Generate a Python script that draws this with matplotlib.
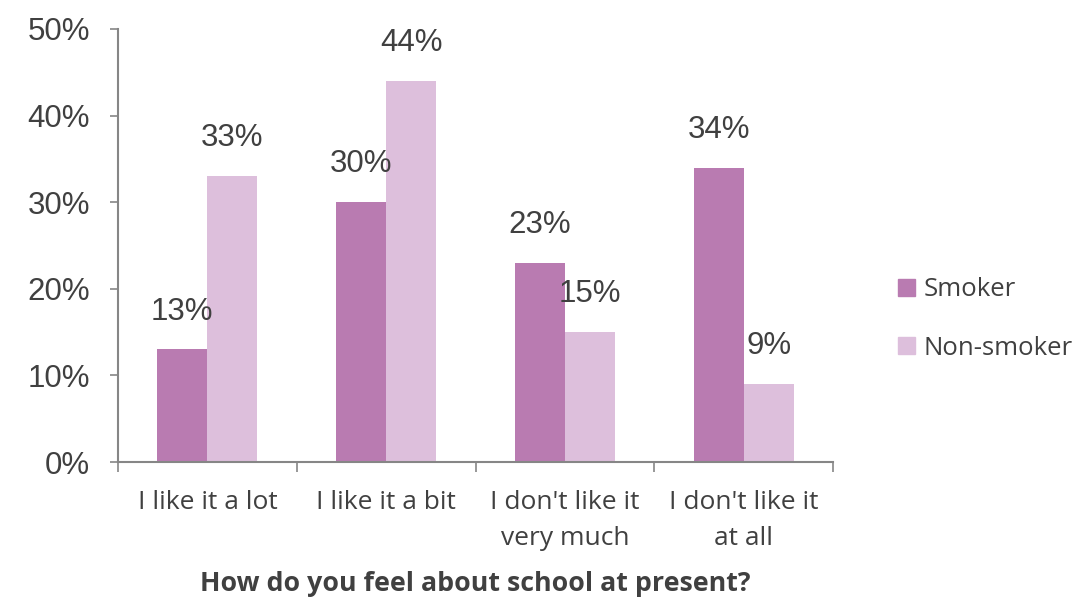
import numpy as np
import matplotlib
matplotlib.use("Agg")
import matplotlib.pyplot as plt
from matplotlib.patches import Patch

categories = ["I like it a lot", "I like it a bit",
              "I don't like it\nvery much", "I don't like it\nat all"]
smoker = [13, 30, 23, 34]
non_smoker = [33, 44, 15, 9]
series_names = ["Smoker", "Non-smoker"]
y_ticks = [0, 10, 20, 30, 40, 50]

SMOKER_COL = "#B97BB1"
NON_COL = "#DDBFDC"
AXIS_COL = "#868686"
TEXT_COL = "#404040"
ARIAL = "Liberation Sans"
CALIBRI = "Open Sans"

fig = plt.figure(figsize=(10.78, 6.01), dpi=100)
ax = fig.add_axes([118 / 1078, 1 - 462 / 601, (833 - 118) / 1078, (462 - 29) / 601])

x = np.arange(len(categories))
w = 0.28
bars_s = ax.bar(x - w / 2, smoker, w, color=SMOKER_COL)
bars_n = ax.bar(x + w / 2, non_smoker, w, color=NON_COL)

for bars, vals in [(bars_s, smoker), (bars_n, non_smoker)]:
    for b, v in zip(bars, vals):
        ax.annotate(f"{v}%", (b.get_x() + b.get_width() / 2, v),
                    xytext=(0, 16.5), textcoords="offset points",
                    ha="center", va="bottom", fontsize=22.5,
                    family=ARIAL, color=TEXT_COL)

ax.set_xlim(-0.5, len(categories) - 0.5)
ax.set_ylim(0, 50)
ax.set_yticks(y_ticks)
ax.set_yticklabels([f"{t}%" for t in y_ticks], family=ARIAL, fontsize=22.5,
                   color=TEXT_COL)
ax.tick_params(axis="y", length=6, width=1.2, color=AXIS_COL, pad=14)

# category labels sit between boundary ticks
ax.set_xticks(np.arange(-0.5, len(categories)), minor=False)
ax.set_xticklabels([])
ax.set_xticks(x, minor=True)
ax.set_xticklabels(categories, minor=True, family=CALIBRI, fontsize=19,
                   color=TEXT_COL, linespacing=1.6)
ax.tick_params(axis="x", which="major", length=7, width=1.2, color=AXIS_COL)
ax.tick_params(axis="x", which="minor", length=0, pad=20)

for s in ["top", "right"]:
    ax.spines[s].set_visible(False)
for s in ["left", "bottom"]:
    ax.spines[s].set_color(AXIS_COL)
    ax.spines[s].set_linewidth(1.5)

ax.set_xlabel("How do you feel about school at present?", family=CALIBRI,
              fontsize=19.3, fontweight="bold", color=TEXT_COL, labelpad=14)

handles = [Patch(color=SMOKER_COL), Patch(color=NON_COL)]
fig.legend(handles, series_names, loc="center left",
           bbox_to_anchor=(875 / 1078, 1 - 319 / 601), frameon=False,
           prop={"family": CALIBRI, "size": 18.5}, labelcolor=TEXT_COL,
           handlelength=0.65, handleheight=0.65, handletextpad=0.35,
           labelspacing=1.3)

fig.savefig("out.png", dpi=100)
